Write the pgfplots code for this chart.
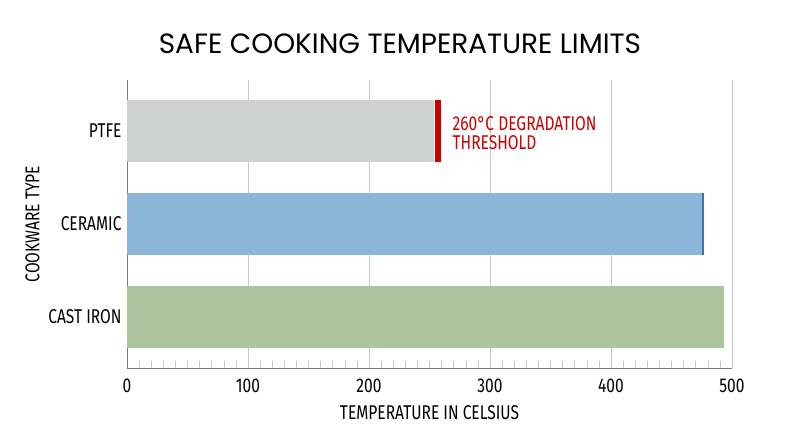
\documentclass[border=0pt]{standalone}
\usepackage{fontspec}
\setmainfont[FakeStretch=0.78]{Fira Sans}
\newfontfamily\titlefont{Poppins}
\usepackage{pgfplots}
\pgfplotsset{compat=1.18}
\definecolor{ptfegray}{RGB}{208,210,210}
\definecolor{ceramicblue}{RGB}{138,182,216}
\definecolor{ceramicedge}{RGB}{58,118,168}
\definecolor{irongreen}{RGB}{173,196,158}
\definecolor{threshred}{RGB}{204,0,0}
\definecolor{gridgray}{RGB}{200,200,200}
\definecolor{axisgray}{RGB}{120,120,120}
\begin{document}
\begin{tikzpicture}[x=1bp,y=1bp]
\path[use as bounding box] (-127,-79) rectangle (673,368);
\begin{axis}[
    scale only axis,
    width=605bp, height=288bp,
    at={(0,0)}, anchor=south west,
    xmin=0, xmax=500,
    ymin=-0.55, ymax=2.55,
    xtick={0,100,200,300,400,500},
    minor x tick num=9,
    ytick={0,1,2},
    yticklabels={CAST IRON,CERAMIC,PTFE},
    xmajorgrids=true,
    major grid style={draw=gridgray, line width=0.8pt},
    axis line style={draw=axisgray, line width=0.8pt},
    axis x line*=bottom,
    axis y line*=left,
    xtick align=inside,
    major tick length=0pt,
    minor tick length=7bp,
    minor tick style={draw=gridgray, line width=0.6pt},
    tick label style={font=\fontsize{20}{20}\selectfont, text=black},
    /pgf/number format/assume math mode=true,
    xticklabel style={yshift=-7bp},
    yticklabel style={xshift=-2bp},
    xlabel={TEMPERATURE IN CELSIUS},
    ylabel={COOKWARE TYPE},
    label style={font=\fontsize{20}{20}\selectfont},
    xlabel style={yshift=-6bp},
    ylabel style={yshift=2bp},
    clip=false,
]
\addplot[xbar, bar width=0.66, bar shift=0pt, draw=none, fill=ptfegray] coordinates {(254,2)};
\addplot[xbar, bar width=0.66, bar shift=0pt, draw=none, fill=ceramicblue] coordinates {(477,1)};
\addplot[xbar, bar width=0.66, bar shift=0pt, draw=none, fill=irongreen] coordinates {(493,0)};
% threshold marker and ceramic edge
\addplot[draw=threshred, line width=6bp, mark=none] coordinates {(257,1.67) (257,2.33)};
\addplot[draw=ceramicedge, line width=2.5bp, mark=none] coordinates {(476,0.67) (476,1.33)};
\node[anchor=north west, align=left, text=threshred, font=\fontsize{20}{19}\selectfont, inner sep=0pt]
    at (axis cs:269,2.16) {260°C DEGRADATION\\THRESHOLD};
\end{axis}
\node[font=\titlefont\fontsize{28}{28}\selectfont] at (273,324) {SAFE COOKING TEMPERATURE LIMITS};
\end{tikzpicture}
\end{document}
